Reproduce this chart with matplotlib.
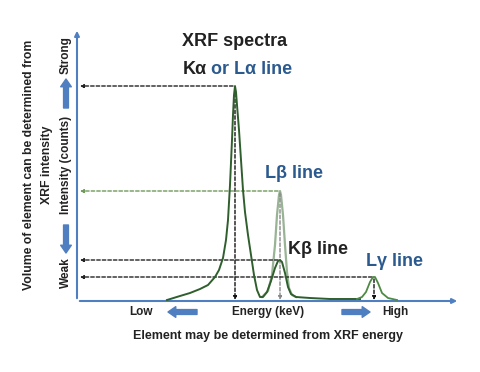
import matplotlib
matplotlib.use('Agg')
import matplotlib.pyplot as plt

plt.rcParams['font.family'] = ['Liberation Sans', 'DejaVu Sans']

# spectrum (arbitrary energy / count units)
main_x = [90, 103, 113, 123, 131, 138, 142, 146, 149, 151, 153, 155, 156, 157, 158,
          159, 160, 162, 164, 166, 168, 171, 174, 177, 180, 183, 186, 190, 194, 198,
          201, 203, 205, 208, 211, 214, 219, 233, 253, 278, 283]
main_y = [1, 5, 8, 12, 16, 24, 31, 43, 61, 81, 116, 161, 186, 206, 215,
          209, 196, 171, 141, 111, 89, 66, 46, 26, 11, 4, 4, 9, 20, 33,
          40, 41, 39, 28, 14, 7, 4, 3, 2, 2, 2]
lb_x = [185, 191, 195, 198, 200, 202, 203, 204, 206, 208, 210, 212, 215, 219]
lb_y = [4, 10, 26, 56, 86, 106, 110, 106, 86, 56, 29, 13, 6, 4]
lg_x = [280, 285, 289, 293, 296, 298, 301, 305, 311, 320]
lg_y = [2, 4, 9, 19, 24, 24, 18, 8, 3, 1]

# peak positions: label, x, y, guide colour
peak_names = ['Ka', 'Lb', 'Kb', 'Lg']
peak_x = [158, 203, 203, 297]
peak_y = [215, 110, 41, 24]

blue = '#4f7fc0'
dark = '#2f5f2c'

fig = plt.figure(figsize=(4.8, 3.72), dpi=100)
ax = fig.add_axes([77/480, 71/372, 383/480, 273/372])
ax.set_xlim(0, 383)
ax.set_ylim(0, 273)
ax.axis('off')

# axes with arrow heads
ax.annotate('', xy=(0, 273), xytext=(0, 0),
            arrowprops=dict(arrowstyle='-|>', color=blue, lw=1.5, mutation_scale=7))
ax.annotate('', xy=(383, 0), xytext=(0, 0),
            arrowprops=dict(arrowstyle='-|>', color=blue, lw=1.5, mutation_scale=7))

# curves
ax.plot(lb_x, lb_y, color='#98b494', lw=1.6, zorder=3)
ax.plot(main_x, main_y, color=dark, lw=1.4, zorder=4)
ax.plot(lg_x, lg_y, color='#4f8a45', lw=1.3, zorder=4)

# dashed guides to the axes
for name, px, py in zip(peak_names, peak_x, peak_y):
    c = '#6e9a5a' if name == 'Lb' else '#222222'
    ax.annotate('', xy=(3, py), xytext=(px - 2, py),
                arrowprops=dict(arrowstyle='-|>', color=c, lw=1, ls=(0, (2.5, 1.5)),
                                mutation_scale=5, shrinkA=0, shrinkB=0))
    if name != 'Kb':
        vc = '#888888' if name == 'Lb' else '#111111'
        ax.annotate('', xy=(px, 1), xytext=(px, py - 2),
                    arrowprops=dict(arrowstyle='-|>', color=vc, lw=1, ls=(0, (2.5, 1.5)),
                                    mutation_scale=5, shrinkA=0, shrinkB=0))

# titles / peak labels
tb = '#2b5a8f'
ax.text(158, 259, 'XRF spectra', ha='center', va='center', fontsize=13, fontweight='bold',
        color='#222222')
ax.text(106, 231, 'K\u03b1', ha='left', va='center', fontsize=13, fontweight='bold',
        color='#222222')
ax.text(134, 231, 'or L\u03b1 line', ha='left', va='center', fontsize=13, fontweight='bold',
        color=tb)
ax.text(217, 128, 'L\u03b2 line', ha='center', va='center', fontsize=13, fontweight='bold',
        color=tb)
ax.text(241, 52, 'K\u03b2 line', ha='center', va='center', fontsize=13, fontweight='bold',
        color='#222222')
ax.text(317, 40, 'L\u03b3 line', ha='center', va='center', fontsize=13, fontweight='bold',
        color=tb)

# left side labels
ax.text(-48, 136, 'Volume of element can be determined from', rotation=90, ha='center',
        va='center', fontsize=8.8, fontweight='bold', color='#222222', clip_on=False)
ax.text(-30, 136, 'XRF intensity', rotation=90, ha='center', va='center', fontsize=8.8,
        fontweight='bold', color='#222222', clip_on=False)
ax.text(-11, 136, 'Intensity (counts)', rotation=90, ha='center', va='center', fontsize=8.5,
        fontweight='bold', color='#222222', clip_on=False)
ax.text(-11, 246, 'Strong', rotation=90, ha='center', va='center', fontsize=8.5,
        fontweight='bold', color='#222222', clip_on=False)
ax.text(-11, 28, 'Weak', rotation=90, ha='center', va='center', fontsize=8.5,
        fontweight='bold', color='#222222', clip_on=False)
ax.annotate('', xy=(-11, 222), xytext=(-11, 193), annotation_clip=False,
            arrowprops=dict(arrowstyle='simple,head_width=1.1,head_length=0.8,tail_width=0.5',
                            color=blue, mutation_scale=7, shrinkA=0, shrinkB=0))
ax.annotate('', xy=(-11, 48), xytext=(-11, 76), annotation_clip=False,
            arrowprops=dict(arrowstyle='simple,head_width=1.1,head_length=0.8,tail_width=0.5',
                            color=blue, mutation_scale=7, shrinkA=0, shrinkB=0))

# bottom labels
ax.text(64, -11, 'Low', ha='center', va='center', fontsize=8.5, fontweight='bold',
        color='#222222', clip_on=False)
ax.text(191, -11, 'Energy (keV)', ha='center', va='center', fontsize=8.5, fontweight='bold',
        color='#222222', clip_on=False)
ax.text(318, -11, 'High', ha='center', va='center', fontsize=8.5, fontweight='bold',
        color='#222222', clip_on=False)
ax.text(191, -35, 'Element may be determined from XRF energy', ha='center', va='center',
        fontsize=9, fontweight='bold', color='#222222', clip_on=False)
ax.annotate('', xy=(91, -11), xytext=(120, -11), annotation_clip=False,
            arrowprops=dict(arrowstyle='simple,head_width=1.1,head_length=0.8,tail_width=0.5',
                            color=blue, mutation_scale=7, shrinkA=0, shrinkB=0))
ax.annotate('', xy=(293, -11), xytext=(265, -11), annotation_clip=False,
            arrowprops=dict(arrowstyle='simple,head_width=1.1,head_length=0.8,tail_width=0.5',
                            color=blue, mutation_scale=7, shrinkA=0, shrinkB=0))

fig.savefig('out.png', dpi=100)
